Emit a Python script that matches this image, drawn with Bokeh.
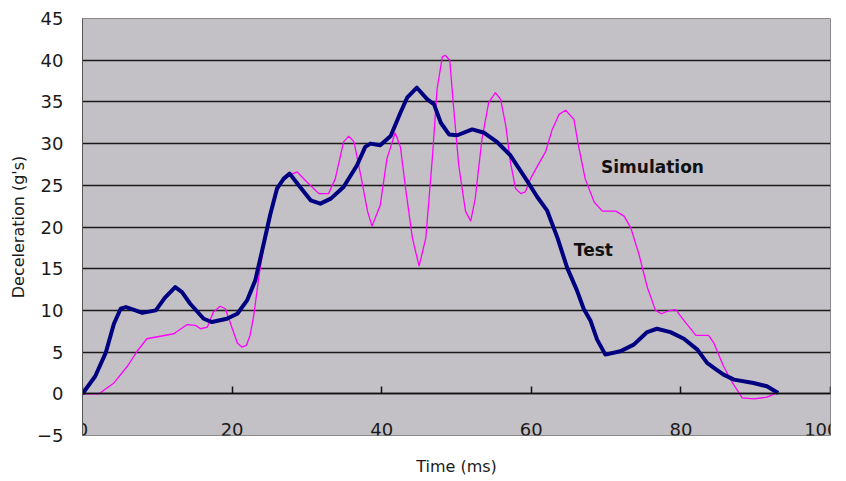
from bokeh.plotting import figure
from bokeh.embed import file_html
from bokeh.resources import INLINE
from bokeh.models import FixedTicker, Range1d, LinearAxis
from bokeh.core.properties import value

# ---- data ----
test_t = [0, 1.7, 3.1, 4.2, 5.1, 5.8, 6.8, 8.0, 9.8, 11.0, 12.4, 13.3, 14.4, 16.2, 17.3,
          19.3, 20.7, 22.0, 23.1, 24.2, 25.1, 26.0, 26.9, 27.7, 28.9, 30.5, 31.8, 33.2,
          34.9, 36.7, 37.8, 38.5, 39.8, 41.2, 42.5, 43.4, 44.7, 46.1, 47.0, 47.9, 49.0,
          50.1, 52.1, 53.7, 55.4, 57.2, 59.4, 60.8, 62.1, 63.5, 64.8, 66.1, 67.0, 67.9,
          68.8, 69.9, 71.9, 73.7, 75.5, 76.8, 78.6, 80.4, 82.2, 83.5, 84.6, 85.7, 87.1,
          89.7, 91.5, 93.0]
test_v = [0, 2.1, 4.9, 8.4, 10.2, 10.4, 10.1, 9.7, 10.0, 11.5, 12.8, 12.2, 10.8, 9.0, 8.6,
          9.0, 9.6, 11.2, 13.6, 17.9, 21.5, 24.6, 25.8, 26.4, 25.0, 23.2, 22.8, 23.4,
          24.8, 27.4, 29.6, 30.0, 29.8, 30.9, 33.7, 35.5, 36.7, 35.3, 34.7, 32.5, 31.1,
          31.0, 31.7, 31.3, 30.2, 28.6, 25.6, 23.6, 22.0, 18.7, 15.1, 12.4, 10.2, 8.8,
          6.5, 4.7, 5.1, 5.9, 7.4, 7.8, 7.4, 6.6, 5.3, 3.7, 3.0, 2.3, 1.7,
          1.3, 0.9, 0.1]

sim_t = [0, 2.2, 4.2, 6.0, 7.3, 8.6, 10.4, 12.2, 14.0, 15.1, 15.8, 16.7, 17.5, 18.4, 19.1,
         19.8, 20.7, 21.3, 21.9, 22.4, 22.9, 23.6, 24.2, 24.9, 25.6, 26.5, 27.6, 28.7,
         30.0, 31.6, 32.9, 33.8, 34.9, 35.6, 36.3, 37.2, 38.1, 38.7, 39.8, 40.7, 41.8,
         42.5, 43.2, 44.1, 45.0, 45.9, 46.8, 47.4, 48.1, 48.5, 49.1, 49.6, 50.3, 51.2,
         51.9, 52.5, 53.4, 54.3, 55.2, 55.9, 56.6, 57.2, 57.9, 58.6, 59.2, 59.9, 61.0,
         61.9, 62.8, 63.7, 64.6, 65.7, 66.3, 67.2, 68.4, 69.5, 71.3, 72.4, 73.3, 74.4,
         75.5, 76.6, 77.4, 78.2, 79.3, 80.4, 82.0, 83.7, 84.4, 85.7, 86.9, 88.2, 89.8,
         91.5, 92.9]
sim_v = [0, 0, 1.3, 3.3, 5.1, 6.6, 6.9, 7.2, 8.3, 8.2, 7.8, 8.0, 9.8, 10.5, 10.2,
         8.4, 6.1, 5.6, 5.8, 7.0, 9.4, 14.2, 17.5, 20.1, 23.4, 25.2, 26.2, 26.6,
         25.4, 24.0, 24.0, 25.8, 30.2, 30.9, 30.2, 26.2, 21.9, 20.1, 22.6, 28.2, 31.3,
         29.6, 24.6, 18.7, 15.3, 18.7, 28.6, 36.5, 40.4, 40.6, 40.0, 34.5, 27.4, 21.9,
         20.7, 23.4, 30.5, 34.9, 36.1, 35.3, 32.1, 27.8, 24.6, 24.0, 24.2, 25.8, 27.6,
         29.0, 31.7, 33.5, 34.0, 32.9, 29.8, 25.8, 23.0, 21.9, 21.9, 21.3, 19.9, 16.7,
         12.8, 10.0, 9.6, 9.9, 10.1, 8.8, 7.0, 7.0, 6.1, 3.3, 1.3, -0.5, -0.6,
         -0.4, 0.1]

x_ticks = [0, 20, 40, 60, 80, 100]
y_ticks = [-5, 0, 5, 10, 15, 20, 25, 30, 35, 40, 45]

label_text = ["Simulation", "Test"]
label_x = [76.2, 68.3]
label_y = [27.2, 17.2]

# ---- figure ----
p = figure(width=838, height=478, output_backend="svg", toolbar_location=None,
           x_range=Range1d(0, 100), y_range=Range1d(-5, 45),
           min_border_left=82, min_border_right=8, min_border_top=18, min_border_bottom=38)

p.border_fill_color = "white"
p.background_fill_color = "#c3c1c5"
p.outline_line_color = "#8a8a8a"
p.outline_line_width = 1

FONT = "DejaVu Sans"

# x axis crossing at y = 0
p.xaxis.fixed_location = 0
p.xaxis.ticker = FixedTicker(ticks=x_ticks)
p.xaxis.axis_line_color = "#111111"
p.xaxis.axis_line_width = 1.5
p.xaxis.major_tick_in = 7
p.xaxis.major_tick_out = 0
p.xaxis.major_tick_line_color = "#111111"
p.xaxis.major_tick_line_width = 1.5
p.xaxis.minor_tick_line_color = None
p.xaxis.major_label_standoff = 29
p.xaxis.major_label_text_font = FONT
p.xaxis.major_label_text_font_size = "18px"
p.xaxis.major_label_text_color = "#1a1a1a"

# axis carrying only the x-axis title, below the frame
xt = LinearAxis(ticker=FixedTicker(ticks=[]), axis_label="Time (ms)")
xt.axis_line_color = None
xt.major_tick_line_color = None
xt.minor_tick_line_color = None
xt.major_tick_out = 0
xt.major_tick_in = 0
xt.major_label_standoff = 0
xt.axis_label_standoff = 21
xt.axis_label_text_font = FONT
xt.axis_label_text_font_size = "16px"
xt.axis_label_text_font_style = "normal"
xt.axis_label_text_color = "#1a1a1a"
p.add_layout(xt, "below")

p.yaxis.ticker = FixedTicker(ticks=y_ticks)
p.yaxis.axis_line_color = "#555555"
p.yaxis.axis_line_width = 1
p.yaxis.major_tick_in = 0
p.yaxis.major_tick_out = 0
p.yaxis.minor_tick_line_color = None
p.yaxis.major_label_standoff = 19
p.yaxis.major_label_text_font = FONT
p.yaxis.major_label_text_font_size = "18px"
p.yaxis.major_label_text_color = "#1a1a1a"
p.yaxis.axis_label = "Deceleration (g's)"
p.yaxis.axis_label_text_font = FONT
p.yaxis.axis_label_text_font_size = "16px"
p.yaxis.axis_label_text_font_style = "normal"
p.yaxis.axis_label_text_color = "#1a1a1a"
p.yaxis.axis_label_standoff = 6

p.xgrid.grid_line_color = None
p.ygrid.ticker = FixedTicker(ticks=y_ticks)
p.ygrid.grid_line_color = "#1a1a1a"
p.ygrid.grid_line_width = 1.5

p.line(sim_t, sim_v, line_color="#ff00ff", line_width=1.3)
p.line(test_t, test_v, line_color="#000080", line_width=4, line_join="round")

p.text(x=label_x, y=label_y, text=label_text, text_align="center", text_baseline="middle",
       text_font=value(FONT), text_font_style="bold", text_font_size="17px",
       text_color="#111111")

open("out.html", "w").write(file_html(p, INLINE))
